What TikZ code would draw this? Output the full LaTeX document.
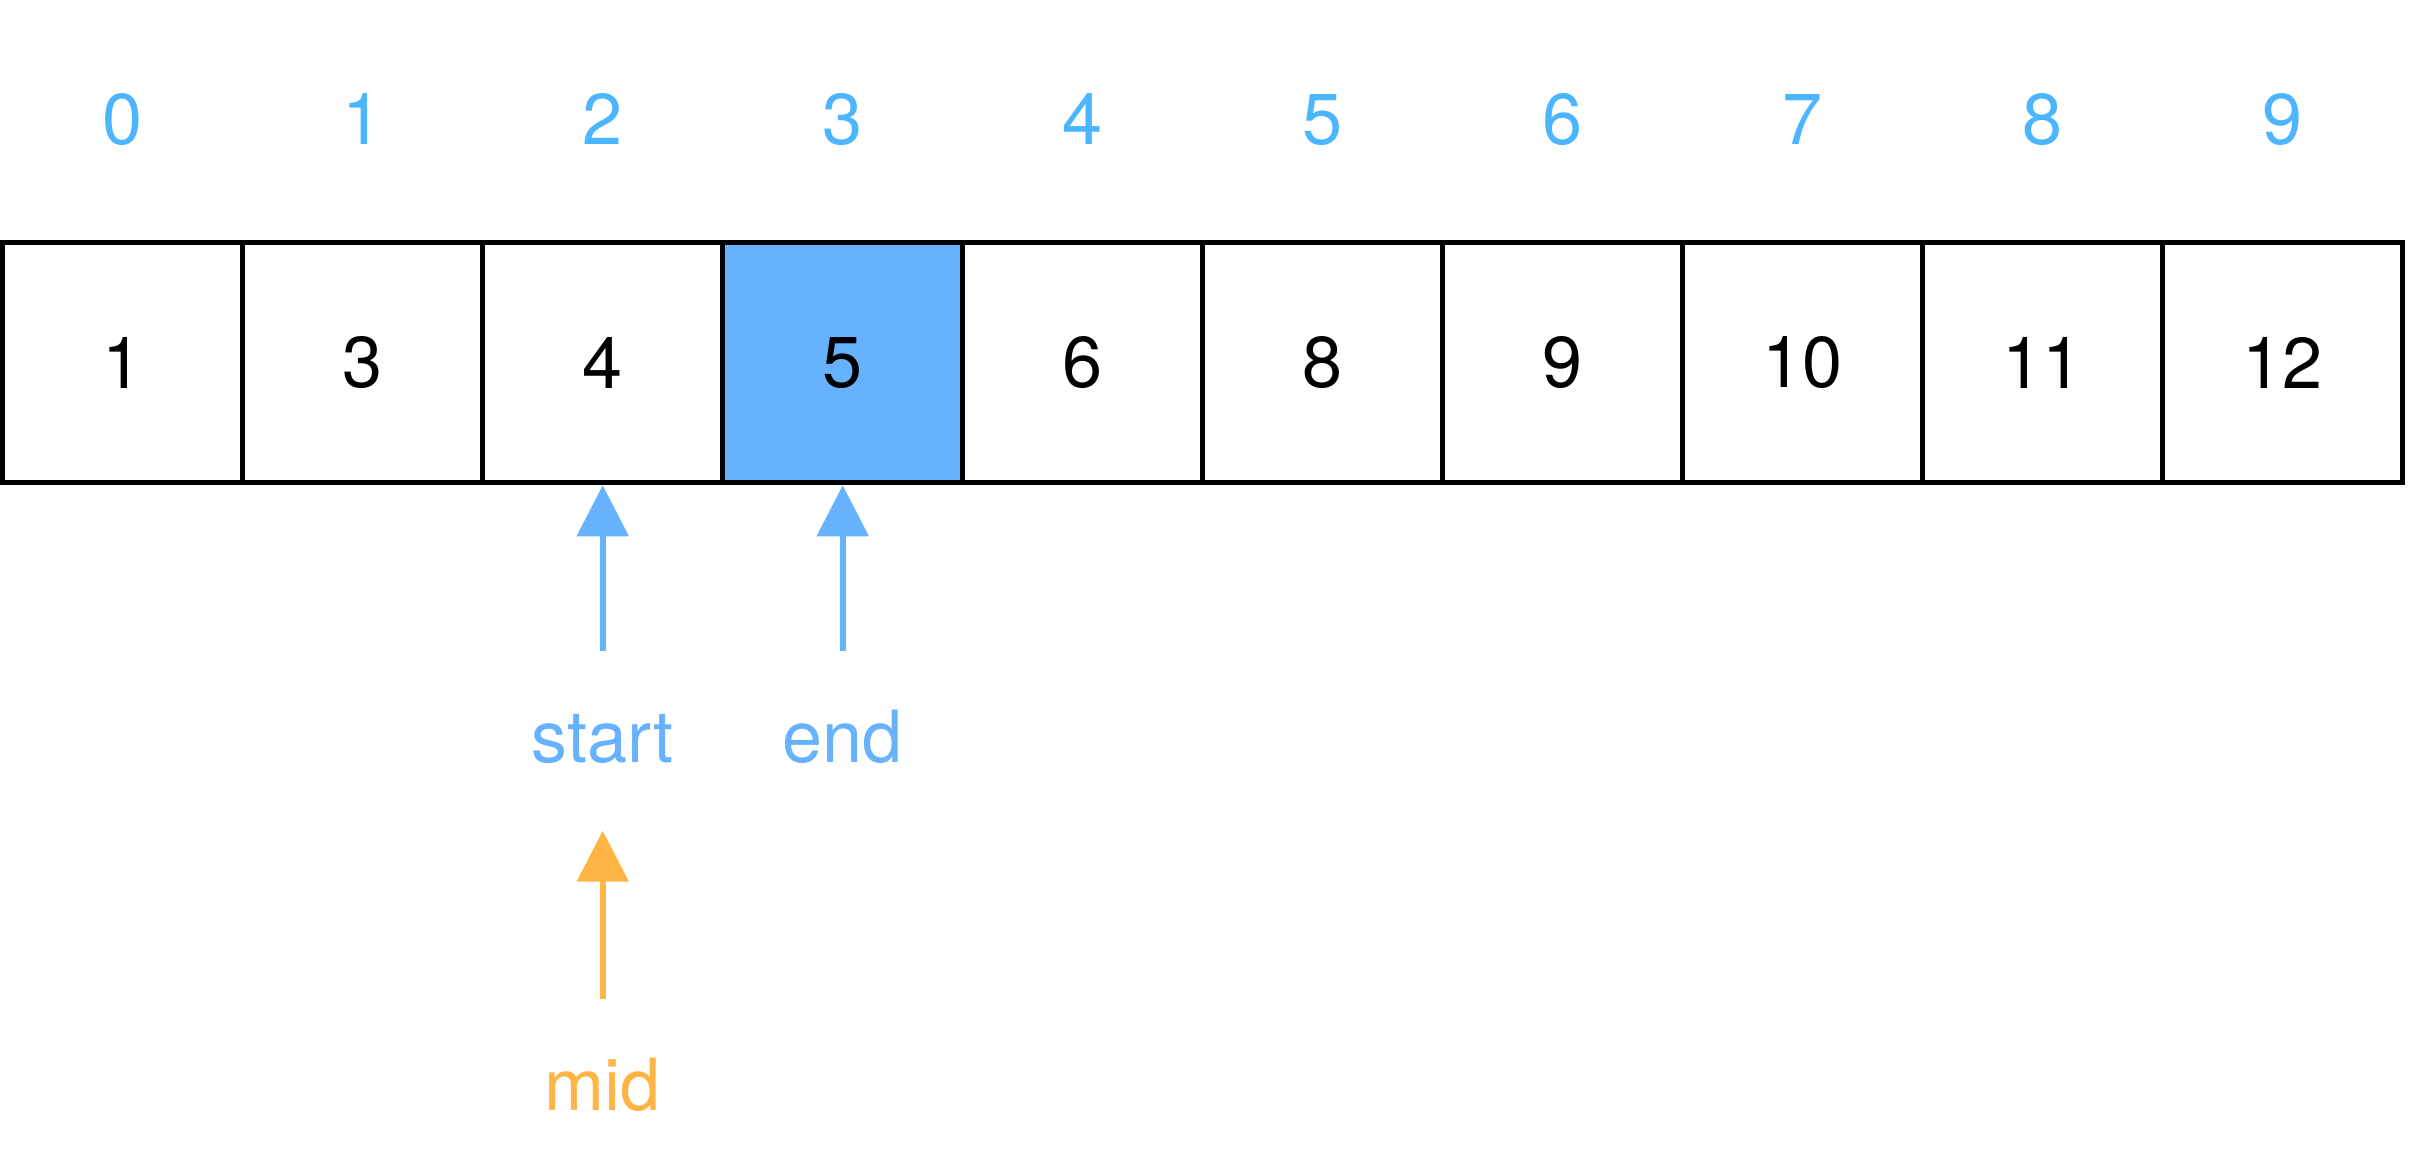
\documentclass[tikz,border=0pt]{standalone}
\usepackage{fontspec}
\setmainfont{TeX Gyre Heros}
\usetikzlibrary{arrows.meta}
\definecolor{idxblue}{HTML}{4CB5FF}
\definecolor{ptrblue}{HTML}{66B2FF}
\definecolor{ptrorange}{HTML}{FFB546}
\tikzset{
  txt/.style={font=\fontsize{36}{40}\selectfont},
  cell/.style={txt, draw=black, line width=2.6pt, minimum width=120pt, minimum height=120pt, inner sep=0pt},
  idx/.style={txt, anchor=base, text=idxblue, inner sep=0pt},
  ptrlabel/.style={txt, anchor=base, inner sep=0pt},
  ptr/.style={line width=2.8pt, -{Triangle[length=25.5pt, width=25.5pt]}},
}
\begin{document}
\begin{tikzpicture}[x=0.5pt, y=-0.5pt]
\useasboundingbox (0,0) rectangle (2412,1176);
\foreach \v [count=\i from 0] in {1,3,4,5,6,8,9,10,11,12} {
  \pgfmathsetmacro{\cx}{122.7+240*\i}
  \ifnum\i=3
    \node[cell, fill=ptrblue] (c\i) at (\cx,362.7) {\v};
  \else
    \node[cell] (c\i) at (\cx,362.7) {\v};
  \fi
  \node[idx] (i\i) at (\cx,145) {\i};
}
\node[ptrlabel, text=ptrblue] (start) at (602.7,762.7) {start};
\node[ptrlabel, text=ptrblue] (end) at (842.7,762.7) {end};
\node[ptrlabel, text=ptrorange] (mid) at (602.7,1110) {mid};
\coordinate (starttail) at (602.7,651);
\coordinate (endtail) at (842.7,651);
\coordinate (midtail) at (602.7,999);
\coordinate (midtip) at (602.7,830.7);
\draw[ptr, draw=ptrblue, fill=ptrblue] (starttail) -- (c2.south);
\draw[ptr, draw=ptrblue, fill=ptrblue] (endtail) -- (c3.south);
\draw[ptr, draw=ptrorange, fill=ptrorange] (midtail) -- (midtip);
\end{tikzpicture}
\end{document}
